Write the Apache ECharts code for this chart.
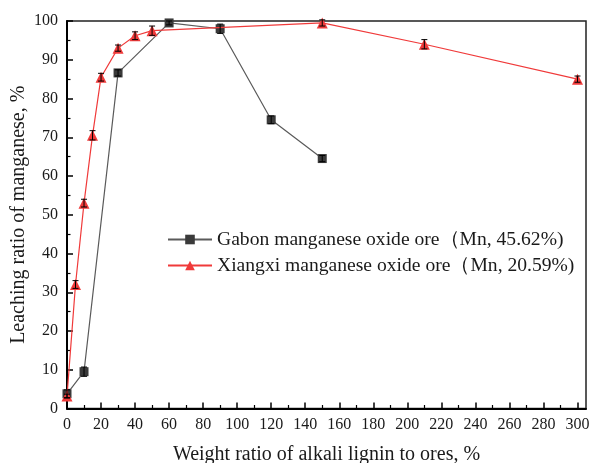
<!DOCTYPE html>
<html><head><meta charset="utf-8">
<script src="https://cdn.jsdelivr.net/npm/echarts@6/dist/echarts.min.js"></script>
<style>html,body{margin:0;padding:0;background:#fff}#c{width:589px;height:463px}</style>
</head><body><div id="c"></div>
<script>
const gabonX = [0, 10, 30, 60, 90, 120, 150];
const gabonY = [3.8, 9.5, 86.6, 99.5, 98.0, 74.5, 64.5];
const gabonErr = [1.0, 1.2, 0.8, 0.5, 1.2, 1.0, 0.8];
const xiangxiX = [0, 5, 10, 15, 20, 30, 40, 50, 150, 210, 300];
const xiangxiY = [3.2, 32.0, 53.0, 70.5, 85.5, 93.0, 96.2, 97.5, 99.5, 94.0, 85.0];
const xiangxiErr = [0.5, 1.0, 1.0, 1.2, 1.0, 0.8, 1.0, 1.2, 0.8, 1.2, 0.8];
const gabonName = 'Gabon manganese oxide ore（Mn, 45.62%)';
const xiangxiName = 'Xiangxi manganese oxide ore（Mn, 20.59%)';
const xMajor = [0,20,40,60,80,100,120,140,160,180,200,220,240,260,280,300];
const xMinor = [10,30,50,70,90,110,130,150,170,190,210,230,250,270,290];

const serif = '"Liberation Serif", "Times New Roman", serif';
function pts(xs, ys) { return xs.map((x, i) => [x, ys[i]]); }
function errData(xs, ys, es) { return xs.map((x, i) => [x, ys[i] - es[i], ys[i] + es[i]]); }
function errRender(params, api) {
  const x = api.value(0);
  const lo = api.coord([x, api.value(1)]);
  const hi = api.coord([x, api.value(2)]);
  const w = 3;
  const st = { stroke: '#000', lineWidth: 1 };
  return { type: 'group', children: [
    { type: 'line', shape: { x1: lo[0], y1: lo[1], x2: hi[0], y2: hi[1] }, style: st },
    { type: 'line', shape: { x1: lo[0]-w, y1: lo[1], x2: lo[0]+w, y2: lo[1] }, style: st },
    { type: 'line', shape: { x1: hi[0]-w, y1: hi[1], x2: hi[0]+w, y2: hi[1] }, style: st }
  ]};
}

const chart = echarts.init(document.getElementById('c'));
chart.setOption({
  animation: false,
  backgroundColor: '#fff',
  grid: { left: 67, right: 3, top: 21, bottom: 54.5, show: true, borderColor: '#222', borderWidth: 1.5,
          containLabel: false, outerBoundsMode: 'none' },
  legend: {
    left: 162, top: 224.5, orient: 'vertical', itemWidth: 44, itemHeight: 12, itemGap: 6,
    textStyle: { fontFamily: serif, fontSize: 19.6, lineHeight: 19, color: '#1a1a1a' },
    data: [gabonName, xiangxiName]
  },
  xAxis: [{
    type: 'value', min: 0, max: 305, interval: 20,
    name: 'Weight ratio of alkali lignin to ores, %', nameLocation: 'middle', nameGap: 36, nameMoveOverlap: false,
    nameTextStyle: { fontFamily: serif, fontSize: 20, color: '#1a1a1a' },
    axisLine: { onZero: false, lineStyle: { color: '#000', width: 2 } },
    axisTick: { inside: true, length: 6, lineStyle: { color: '#000', width: 1.5 }, customValues: xMajor },
    axisLabel: { fontFamily: serif, fontSize: 16, color: '#1a1a1a', margin: 8, customValues: xMajor },
    splitLine: { show: false }
  }, {
    type: 'value', min: 0, max: 305, position: 'bottom',
    axisLine: { show: false },
    axisTick: { inside: true, length: 3.5, lineStyle: { color: '#000', width: 1.2 }, customValues: xMinor },
    axisLabel: { show: false }, splitLine: { show: false }
  }],
  yAxis: {
    type: 'value', min: 0, max: 100, interval: 10,
    name: 'Leaching ratio of manganese, %', nameLocation: 'middle', nameGap: 38, nameMoveOverlap: false,
    nameTextStyle: { fontFamily: serif, fontSize: 20, color: '#1a1a1a' },
    axisLine: { lineStyle: { color: '#000', width: 2 } },
    axisTick: { inside: true, length: 6, lineStyle: { color: '#000', width: 1.5 } },
    minorTick: { show: true, splitNumber: 2, length: 3.5, lineStyle: { color: '#000', width: 1.2 } },
    axisLabel: { fontFamily: serif, fontSize: 16, color: '#1a1a1a', margin: 9 },
    splitLine: { show: false }
  },
  series: [
    { name: gabonName, type: 'line', data: pts(gabonX, gabonY), symbol: 'rect', symbolSize: 9,
      lineStyle: { color: '#5a5a5a', width: 1.2 }, itemStyle: { color: '#3a3a3a' }, z: 3 },
    { name: xiangxiName, type: 'line', data: pts(xiangxiX, xiangxiY), symbol: 'triangle', symbolSize: 11,
      lineStyle: { color: '#f03a3a', width: 1.2 }, itemStyle: { color: '#f03a3a' }, z: 4 },
    { type: 'custom', renderItem: errRender, data: errData(gabonX, gabonY, gabonErr), z: 5, encode: { x: 0, y: [1, 2] } },
    { type: 'custom', renderItem: errRender, data: errData(xiangxiX, xiangxiY, xiangxiErr), z: 5, encode: { x: 0, y: [1, 2] } }
  ]
});
</script></body></html>
